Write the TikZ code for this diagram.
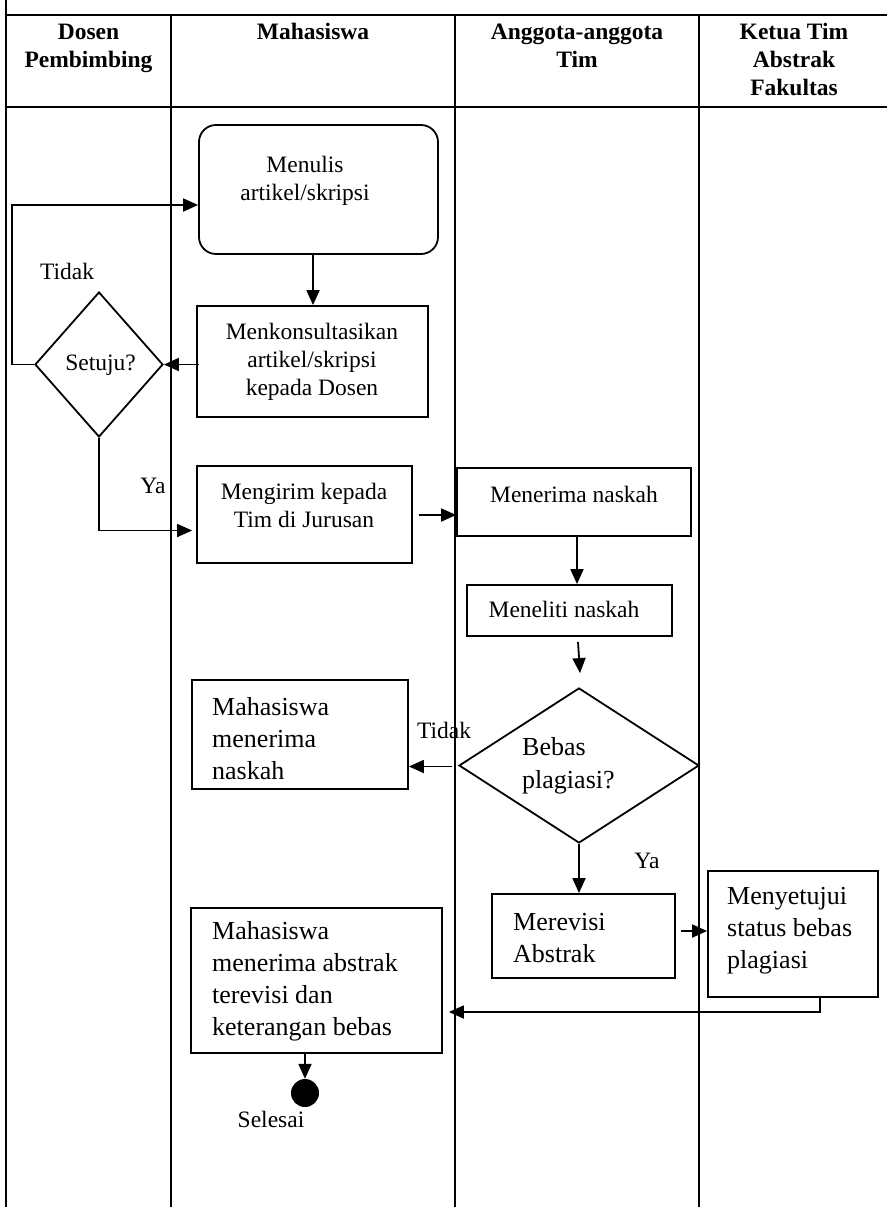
\documentclass[tikz,border=0pt]{standalone}
\usepackage{fontspec}
\setmainfont{Liberation Serif}
\usetikzlibrary{shapes.geometric,arrows.meta,calc}
\begin{document}
\begin{tikzpicture}[x=1pt,y=-1pt,
  grid/.style={line width=2.8pt},
  stepbox/.style={draw, line width=1.8pt, rectangle, inner sep=0pt},
  decision/.style={draw, line width=1.8pt, diamond, inner sep=0pt},
  flow/.style={line width=1.8pt, -{Triangle[length=15pt,width=13pt]}},
  head/.style={font=\bfseries\fontsize{23.5}{28}\selectfont, align=center, inner sep=0pt, anchor=north},
  small/.style={font=\fontsize{23.5}{28}\selectfont, inner sep=0pt},
  smallc/.style={small, align=center, anchor=north},
  big/.style={font=\fontsize{26}{32}\selectfont, inner sep=0pt, align=left, anchor=north west},
  bigd/.style={font=\fontsize{26}{33}\selectfont, inner sep=0pt, align=left, anchor=north west},
]
\useasboundingbox (0,0) rectangle (887,1207);
\fill[white] (0,0) rectangle (887,1207);

% swimlane table
\draw[grid] (6,0) -- (6,1207);
\draw[grid] (6,15) -- (887,15);
\draw[grid] (6,107) -- (887,107);
\draw[grid] (171,15) -- (171,1207);
\draw[grid] (455,15) -- (455,1207);
\draw[grid] (699,15) -- (699,1207);

% lane headers
\node[head] (hdosen) at (88.5,19.4) {\strut Dosen\\Pembimbing};
\node[head] (hmhs) at (313,19.4) {\strut Mahasiswa};
\node[head] (hang) at (577,19.4) {\strut Anggota-anggota\\Tim};
\node[head] (hketua) at (794,19.4) {\strut Ketua Tim\\Abstrak\\Fakultas};

% shapes
\node[stepbox, rounded corners=17pt, minimum width=239pt, minimum height=129pt] (menulis) at (318.5,189.5) {};
\node[stepbox, minimum width=231pt, minimum height=111pt] (konsul) at (312.5,361.5) {};
\node[decision, minimum width=128pt, minimum height=145pt] (setuju) at (99,364.5) {};
\node[stepbox, minimum width=215pt, minimum height=97pt] (mengirim) at (304.5,514.5) {};
\node[stepbox, minimum width=234pt, minimum height=68pt] (menerima) at (574,502) {};
\node[stepbox, minimum width=205pt, minimum height=51pt] (meneliti) at (569.5,610.5) {};
\node[decision, minimum width=240pt, minimum height=155pt] (bebas) at (579,765.5) {};
\node[stepbox, minimum width=216pt, minimum height=109pt] (mhsnaskah) at (300,734.5) {};
\node[stepbox, minimum width=183pt, minimum height=84pt] (merevisi) at (583.5,936) {};
\node[stepbox, minimum width=170pt, minimum height=126pt] (setujui) at (793,934) {};
\node[stepbox, minimum width=251pt, minimum height=145pt] (abstrak) at (316.5,980.5) {};
\node[circle, fill=black, inner sep=0pt, minimum size=28pt] (selesai) at (305,1093) {};

% texts
\node[smallc] (tmenulis) at (305,152.4) {\strut Menulis\\artikel/skripsi};
\node[smallc] (tkonsul) at (312,319.4) {\strut Menkonsultasikan\\artikel/skripsi\\kepada Dosen};
\node[small, anchor=base] (tsetuju) at (100.5,370) {Setuju?};
\node[small, anchor=base] (ttidak1) at (67,279) {Tidak};
\node[small, anchor=base] (tya1) at (153,493) {Ya};
\node[smallc] (tmengirim) at (304,479.4) {\strut Mengirim kepada\\Tim di Jurusan};
\node[small, anchor=base] (tmenerima) at (574,502) {Menerima naskah};
\node[small, anchor=base] (tmeneliti) at (564,617) {Meneliti naskah};
\node[bigd] (tbebas) at (522,731.9) {\strut Bebas\\plagiasi?};
\node[small, anchor=base] (ttidak2) at (444,738) {Tidak};
\node[small, anchor=base] (tya2) at (647,868) {Ya};
\node[big] (tmhsnaskah) at (212,692.6) {\strut Mahasiswa\\menerima\\naskah};
\node[big] (tmerevisi) at (513,907.6) {\strut Merevisi\\Abstrak};
\node[big] (tsetujui) at (727,881.6) {\strut Menyetujui\\status bebas\\plagiasi};
\node[big] (tabstrak) at (212,916.6) {\strut Mahasiswa\\menerima abstrak\\terevisi dan\\keterangan bebas};
\node[small, anchor=base] (tselesai) at (271,1127) {Selesai};

% connectors
\draw[flow] ($(menulis.south)+(-5.5,0)$) -- ($(konsul.north)+(0.5,0)$);
\draw[flow] ($(konsul.west |- setuju.east)+(3,0)$) -- (setuju.east);
\draw[flow] (setuju.west) -- ++(-22,0) |- ($(menulis.west)+(0,15.5)$);
\draw[flow] (setuju.south) |- ($(mengirim.west)+(-4,16)$);
\draw[flow] ($(mengirim.east)+(6,0.5)$) -- ($(menerima.west |- mengirim.east)+(0,0.5)$);
\draw[flow] ($(menerima.south)+(3,0)$) -- ($(menerima.south |- meneliti.north)+(3,0)$);
\draw[flow] ($(meneliti.south)+(8.5,5)$) -- ($(bebas.north)+(1,-14)$);
\draw[flow] ($(bebas.west)+(-6,1)$) -- ($(mhsnaskah.east |- bebas.west)+(0,1)$);
\draw[flow] (bebas.south) -- (bebas.south |- merevisi.north);
\draw[flow] ($(merevisi.east)+(5,-5)$) -- ($(setujui.west |- merevisi.east)+(0,-5)$);
\draw[flow] ($(setujui.south)+(27,0)$) |- ($(abstrak.east)+(6,31.5)$);
\draw[flow] (abstrak.south -| selesai) -- (selesai.north);
\end{tikzpicture}
\end{document}
